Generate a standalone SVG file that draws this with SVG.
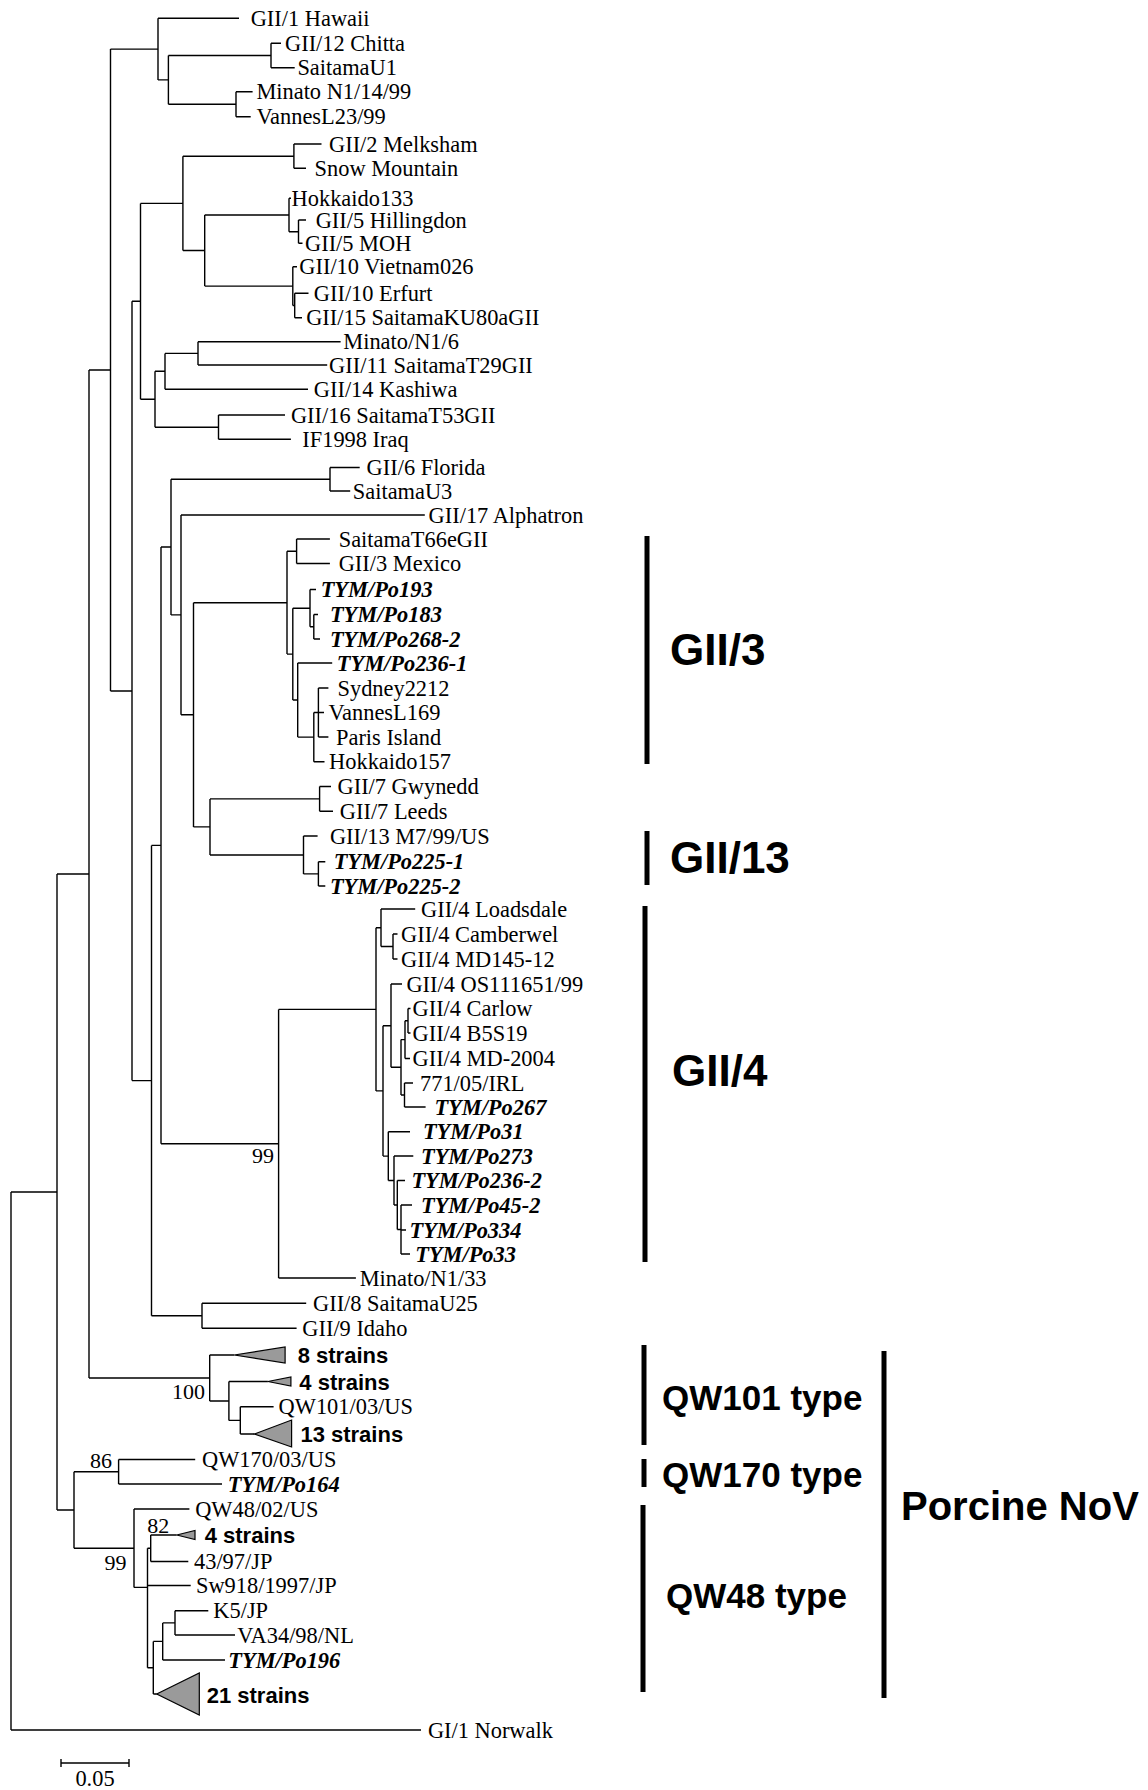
<svg xmlns="http://www.w3.org/2000/svg" width="1148" height="1790" viewBox="0 0 1148 1790">
<style>
.t{font-family:"Liberation Serif","Times New Roman",serif;font-size:22.4px;fill:#000}
.ti{font-weight:bold;font-style:italic}
.bs{font-family:"Liberation Serif","Times New Roman",serif;font-size:22px;fill:#000}
.s{font-family:"Liberation Sans",Arial,sans-serif;font-weight:bold;font-size:22px;fill:#000}
.g{font-family:"Liberation Sans",Arial,sans-serif;font-weight:bold;font-size:44px;fill:#000}
.q{font-family:"Liberation Sans",Arial,sans-serif;font-weight:bold;font-size:35px;fill:#000}
.p{font-family:"Liberation Sans",Arial,sans-serif;font-weight:bold;font-size:40px;fill:#000}
.br{fill:none;stroke:#000;stroke-width:1.4}
.bar{stroke:#000;stroke-width:5}
.tri{fill:#9a9a9a;stroke:#000;stroke-width:1.2}
</style>
<rect width="1148" height="1790" fill="#fff"/>
<g id="connectors">
<path class="br" d="M11 1192V1730M57 874V1510M89 370V1378M110.5 49.1V691M158 18.3V79.9M168.4 55.5V104.2M271 43.3V67.7M236 91.7V116.7M132 301.3V1080.6M140.5 203.4V399.2M182.9 156.2V250.5M293.9 144V168.3M204.7 215V286.1M289 198.3V231.7M298.5 220V243.3M292.8 266.7V305.5M294.7 293.3V317.7M155 371.3V427.2M165 353.4V389.3M198 341.7V365M218.5 415V439.3M151.5 845.4V1315.8M161 547V1143.7M171 479.2V614.9M330 467.5V491M181 515V714.8M193.5 602.7V826.9M287 551.3V654.1M296.6 539V563.5M292.8 608.2V700M310 589.5V626.8M313.8 614.5V639M297.7 663V737.1M313.8 712.5V761.7M318.4 688V737M210 798.9V855M319.6 786.5V811.2M303.5 836V873.9M318.4 861.7V886M278.6 1009.4V1278M376 927.8V1090.9M381 909V946.5M393 934V959M383 1025.7V1156.1M391 984V1067.3M401 1039.6V1095M405 1020.8V1058.5M408 1008.5V1033M404.5 1083V1107M388.3 1131.7V1180.5M394 1156V1205M397.3 1180.5V1229.5M401 1205V1254M202 1303.3V1328.3M209.7 1355V1401M228.9 1381.5V1420.4M240.3 1406.7V1434M74 1471.8V1548.2M118.6 1459.5V1484M134 1509V1587.4M147.5 1548.2V1667.7M150.7 1535V1561.5M153.3 1641.4V1694M162.7 1622.9V1660M175 1610.7V1635"/>
<path class="br" d="M11 1192H57M11 1730H421M57 874H89M57 1510H74M89 370H110.5M89 1378H209.7M110.5 49.1H158M110.5 691H132M158 18.3H239M158 79.9H168.4M168.4 55.5H271M168.4 104.2H236M271 43.3H281M271 67.7H294.7M236 91.7H252.6M236 116.7H250.7M132 301.3H140.5M132 1080.6H151.5M140.5 203.4H182.9M140.5 399.2H155M182.9 156.2H293.9M182.9 250.5H204.7M293.9 144H321.5M293.9 168.3H306M204.7 215H289M204.7 286.1H292.8M289 198.3H291M289 231.7H298.5M298.5 220H306M298.5 243.3H302.5M292.8 266.7H297M292.8 305.5H294.7M294.7 293.3H308.5M294.7 317.7H302M155 371.3H165M155 427.2H218.5M165 353.4H198M165 389.3H308M198 341.7H340.6M198 365H327.2M218.5 415H285M218.5 439.3H290.9M151.5 845.4H161M151.5 1315.8H202M161 547H171M161 1143.7H278.6M171 479.2H330M171 614.9H181M330 467.5H359.7M330 491H350.2M181 515H424.8M181 714.8H193.5M193.5 602.7H287M193.5 826.9H210M287 551.3H296.6M287 654.1H292.8M296.6 539H329.9M296.6 563.5H329.9M292.8 608.2H310M292.8 700H297.7M310 589.5H316M310 626.8H313.8M313.8 614.5H318M313.8 639H320M297.7 663H332.2M297.7 737.1H313.8M313.8 712.5H318.4M313.8 761.7H324.5M318.4 688H328.4M318.4 712.5H324M318.4 737H328.4M210 798.9H319.6M210 855H303.5M319.6 786.5H331M319.6 811.2H333M303.5 836H317.6M303.5 873.9H318.4M318.4 861.7H325.3M318.4 886H325.3M278.6 1009.4H376M278.6 1278H355.9M376 927.8H381M376 1090.9H383M381 909H415.2M381 946.5H393M393 934H397.5M393 959H397.5M383 1025.7H391M383 1156.1H388.3M391 984H402M391 1067.3H401M401 1039.6H405M401 1095H404.5M405 1020.8H408M405 1058.5H410M408 1008.5H410.5M408 1033H410.5M404.5 1083H413M404.5 1107H425.6M388.3 1131.7H410M388.3 1180.5H394M394 1156H413.3M394 1205H397.3M397.3 1180.5H405M397.3 1229.5H401M401 1205H412M401 1230H406M401 1254H410M202 1303.3H306.2M202 1328.3H296.6M209.7 1355H234.2M209.7 1401H228.9M228.9 1381.5H267.9M228.9 1420.4H240.3M240.3 1406.7H273.6M240.3 1434H254.5M74 1471.8H118.6M74 1548.2H134M118.6 1459.5H195.2M118.6 1484H222M134 1509H189.4M134 1587.4H147.5M147.5 1548.2H150.7M147.5 1585.5H190.7M147.5 1667.7H153.3M150.7 1535H176.7M150.7 1561.5H188.3M153.3 1641.4H162.7M153.3 1694H156.7M162.7 1622.9H175M162.7 1660H225M175 1610.7H208.3M175 1635H235"/>
</g>
<g id="leaves">
<g id="n01"><text class="t" x="250.7" y="25.8">GII/1 Hawaii</text></g>
<g id="n02"><text class="t" x="285" y="50.8">GII/12 Chitta</text></g>
<g id="n03"><text class="t" x="297.4" y="75.2">SaitamaU1</text></g>
<g id="n04"><text class="t" x="256.4" y="99.2">Minato N1/14/99</text></g>
<g id="n05"><text class="t" x="256.4" y="124.2">VannesL23/99</text></g>
<g id="n06"><text class="t" x="329" y="151.5">GII/2 Melksham</text></g>
<g id="n07"><text class="t" x="314.6" y="175.8">Snow Mountain</text></g>
<g id="n08"><text class="t" x="291.6" y="205.8">Hokkaido133</text></g>
<g id="n09"><text class="t" x="315.7" y="227.5">GII/5 Hillingdon</text></g>
<g id="n10"><text class="t" x="305" y="250.8">GII/5 MOH</text></g>
<g id="n11"><text class="t" x="299.3" y="274.2">GII/10 Vietnam026</text></g>
<g id="n12"><text class="t" x="313.8" y="300.8">GII/10 Erfurt</text></g>
<g id="n13"><text class="t" x="306.2" y="325.2">GII/15 SaitamaKU80aGII</text></g>
<g id="n14"><text class="t" x="343.3" y="349.2">Minato/N1/6</text></g>
<g id="n15"><text class="t" x="329.1" y="372.5">GII/11 SaitamaT29GII</text></g>
<g id="n16"><text class="t" x="313.8" y="396.8">GII/14 Kashiwa</text></g>
<g id="n17"><text class="t" x="290.9" y="422.5">GII/16 SaitamaT53GII</text></g>
<g id="n18"><text class="t" x="302.3" y="446.8">IF1998 Iraq</text></g>
<g id="n19"><text class="t" x="366.6" y="475">GII/6 Florida</text></g>
<g id="n20"><text class="t" x="352.8" y="498.5">SaitamaU3</text></g>
<g id="n21"><text class="t" x="428.6" y="522.5">GII/17 Alphatron</text></g>
<g id="n22"><text class="t" x="338.7" y="546.5">SaitamaT66eGII</text></g>
<g id="n23"><text class="t" x="338.7" y="571">GII/3 Mexico</text></g>
<g id="n24"><text class="t ti" x="320.7" y="597">TYM/Po193</text></g>
<g id="n25"><text class="t ti" x="329.9" y="622">TYM/Po183</text></g>
<g id="n26"><text class="t ti" x="329.9" y="646.5">TYM/Po268-2</text></g>
<g id="n27"><text class="t ti" x="336.8" y="670.5">TYM/Po236-1</text></g>
<g id="n28"><text class="t" x="337.5" y="695.5">Sydney2212</text></g>
<g id="n29"><text class="t" x="328.4" y="720">VannesL169</text></g>
<g id="n30"><text class="t" x="336" y="744.5">Paris Island</text></g>
<g id="n31"><text class="t" x="329.1" y="769.2">Hokkaido157</text></g>
<g id="n32"><text class="t" x="337.5" y="794">GII/7 Gwynedd</text></g>
<g id="n33"><text class="t" x="339.8" y="818.7">GII/7 Leeds</text></g>
<g id="n34"><text class="t" x="329.9" y="843.5">GII/13 M7/99/US</text></g>
<g id="n35"><text class="t ti" x="333.7" y="869.2">TYM/Po225-1</text></g>
<g id="n36"><text class="t ti" x="329.9" y="893.5">TYM/Po225-2</text></g>
<g id="n37"><text class="t" x="421" y="916.5">GII/4 Loadsdale</text></g>
<g id="n38"><text class="t" x="401" y="941.5">GII/4 Camberwel</text></g>
<g id="n39"><text class="t" x="401" y="966.5">GII/4 MD145-12</text></g>
<g id="n40"><text class="t" x="406.4" y="991.5">GII/4 OS111651/99</text></g>
<g id="n41"><text class="t" x="412.5" y="1016">GII/4 Carlow</text></g>
<g id="n42"><text class="t" x="412.5" y="1040.5">GII/4 B5S19</text></g>
<g id="n43"><text class="t" x="412.5" y="1066">GII/4 MD-2004</text></g>
<g id="n44"><text class="t" x="420" y="1090.5">771/05/IRL</text></g>
<g id="n45"><text class="t ti" x="434.4" y="1114.5">TYM/Po267</text></g>
<g id="n46"><text class="t ti" x="422.9" y="1139.2">TYM/Po31</text></g>
<g id="n47"><text class="t ti" x="421" y="1163.5">TYM/Po273</text></g>
<g id="n48"><text class="t ti" x="411.4" y="1188">TYM/Po236-2</text></g>
<g id="n49"><text class="t ti" x="421" y="1212.5">TYM/Po45-2</text></g>
<g id="n50"><text class="t ti" x="409.5" y="1237.5">TYM/Po334</text></g>
<g id="n51"><text class="t ti" x="415.2" y="1261.5">TYM/Po33</text></g>
<g id="n52"><text class="t" x="359.7" y="1285.5">Minato/N1/33</text></g>
<g id="n53"><text class="t" x="313" y="1310.8">GII/8 SaitamaU25</text></g>
<g id="n54"><text class="t" x="302.3" y="1335.8">GII/9 Idaho</text></g>
<g id="n55"><path class="tri" d="M234.2 1355L285.1 1347L285.1 1363Z"/><text class="s" x="297.7" y="1363">8 strains</text></g>
<g id="n56"><path class="tri" d="M267.9 1381.5L290.9 1377L290.9 1386Z"/><text class="s" x="299.3" y="1390">4 strains</text></g>
<g id="n57"><text class="t" x="278.6" y="1414.2">QW101/03/US</text></g>
<g id="n58"><path class="tri" d="M254.5 1434L291.6 1420L291.6 1447Z"/><text class="s" x="300.4" y="1442">13 strains</text></g>
<g id="n59"><text class="t" x="202" y="1467">QW170/03/US</text></g>
<g id="n60"><text class="t ti" x="227.7" y="1491.5">TYM/Po164</text></g>
<g id="n61"><text class="t" x="195.2" y="1516.5">QW48/02/US</text></g>
<g id="n62"><path class="tri" d="M176.7 1535L195 1530.5L195 1539.5Z"/><text class="s" x="204.7" y="1543">4 strains</text></g>
<g id="n63"><text class="t" x="194" y="1569">43/97/JP</text></g>
<g id="n64"><text class="t" x="196" y="1593">Sw918/1997/JP</text></g>
<g id="n65"><text class="t" x="213.3" y="1618.2">K5/JP</text></g>
<g id="n66"><text class="t" x="237.3" y="1642.5">VA34/98/NL</text></g>
<g id="n67"><text class="t ti" x="228.3" y="1667.5">TYM/Po196</text></g>
<g id="n68"><path class="tri" d="M156.7 1694L199.3 1673L199.3 1715Z"/><text class="s" x="206.7" y="1703">21 strains</text></g>
<g id="n69"><text class="t" x="427.9" y="1737.5">GI/1 Norwalk</text></g>
</g>
<g id="bootstrap">
<text class="bs" x="274" y="1162.5" text-anchor="end">99</text>
<text class="bs" x="205" y="1399" text-anchor="end">100</text>
<text class="bs" x="90" y="1467.5">86</text>
<text class="bs" x="126.5" y="1570" text-anchor="end">99</text>
<text class="bs" x="147.3" y="1532.5">82</text>
</g>
<g id="groups">
<g id="grp-gii3"><line class="bar" x1="647" y1="536" x2="647" y2="764"/><text class="g" x="670" y="665">GII/3</text></g>
<g id="grp-gii13"><line class="bar" x1="647" y1="831" x2="647" y2="885"/><text class="g" x="670" y="873">GII/13</text></g>
<g id="grp-gii4"><line class="bar" x1="645" y1="906" x2="645" y2="1262"/><text class="g" x="672" y="1086">GII/4</text></g>
<g id="grp-qw101"><line class="bar" x1="644" y1="1345" x2="644" y2="1445"/><text class="q" x="662" y="1410">QW101 type</text></g>
<g id="grp-qw170"><line class="bar" x1="644" y1="1459" x2="644" y2="1487"/><text class="q" x="662" y="1487">QW170 type</text></g>
<g id="grp-qw48"><line class="bar" x1="643" y1="1505" x2="643" y2="1692"/><text class="q" x="666" y="1608">QW48 type</text></g>
<g id="grp-porcine"><line class="bar" x1="884" y1="1351" x2="884" y2="1698"/><text class="p" x="901" y="1520">Porcine NoV</text></g>
</g>
<g id="scale-bar">
<path class="br" d="M61 1763H129M61 1759V1767M129 1759V1767"/>
<text class="t" x="95" y="1786" text-anchor="middle">0.05</text>
</g>
</svg>
